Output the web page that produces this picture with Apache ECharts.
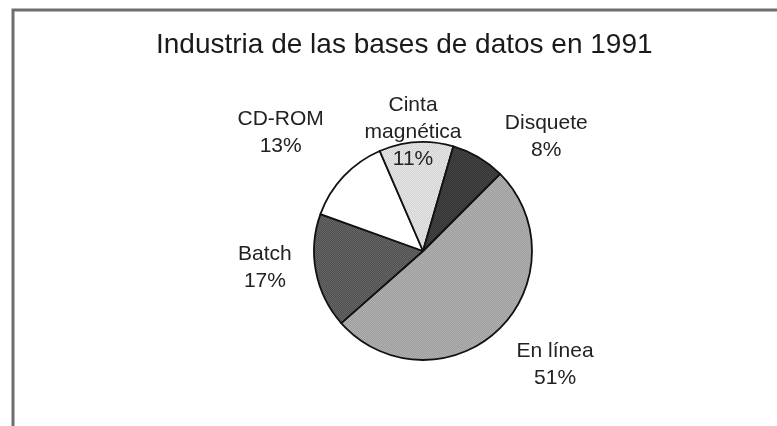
<!DOCTYPE html>
<html>
<head>
<meta charset="utf-8">
<script src="https://cdn.jsdelivr.net/npm/echarts@6/dist/echarts.min.js"></script>
<style>html,body{margin:0;padding:0;background:#fff;}#c{width:777px;height:426px;}</style>
</head>
<body>
<div id="c"></div>
<script>
// ---- data ----
var titleText = 'Industria de las bases de datos en 1991';
var categories = ['En línea', 'Batch', 'CD-ROM', 'Cinta\nmagnética', 'Disquete'];
var values = [51, 17, 13, 11, 8];

// ---- layout / style config ----
var CX = 423, CY = 251, R = 109;
// [radial distance, angle offset in degrees] for each label
var labelPlacement = [[174, 6.2], [159, -4.7], [185, 3.5], [119, 1.2], [168, -16.6]];

function pat(base, alt) {
  var c = document.createElement('canvas');
  c.width = c.height = 2;
  var g = c.getContext('2d');
  g.fillStyle = base; g.fillRect(0, 0, 2, 2);
  g.fillStyle = alt; g.fillRect(0, 0, 1, 1); g.fillRect(1, 1, 1, 1);
  return { image: c, repeat: 'repeat' };
}
var fills = [
  pat('#9c9c9c', '#b2b2b2'),
  pat('#4e4e4e', '#686868'),
  '#ffffff',
  pat('#d2d2d2', '#e6e6e6'),
  pat('#333333', '#454545')
];

var chart = echarts.init(document.getElementById('c'), null, { renderer: 'canvas' });
chart.setOption({
  animation: false,
  backgroundColor: '#ffffff',
  title: {
    text: titleText,
    left: 151,
    top: 26,
    textStyle: { fontFamily: 'Liberation Sans, Arial, sans-serif', fontSize: 28, fontWeight: 'normal', color: '#1a1a1a', lineHeight: 28 }
  },
  graphic: [{
    type: 'polyline',
    shape: { points: [[13, 426], [13, 10], [777, 10]] },
    style: { stroke: '#6e6e6e', lineWidth: 3, fill: null }
  }],
  series: [{
    type: 'pie',
    center: [CX, CY],
    radius: [0, R],
    startAngle: 45,
    clockwise: true,
    silent: true,
    emphasis: { disabled: true },
    itemStyle: { borderColor: '#111111', borderWidth: 1.8 },
    label: {
      show: true,
      position: 'inside',
      formatter: function (p) { return p.name + '\n' + p.value + '%'; },
      fontFamily: 'Liberation Sans, Arial, sans-serif',
      fontSize: 21,
      lineHeight: 27,
      color: '#222222',
      align: 'center'
    },
    labelLine: { show: false },
    labelLayout: function (p) {
      var lr = p.labelRect;
      var mx = lr.x + lr.width / 2 - CX, my = lr.y + lr.height / 2 - CY;
      var pl = labelPlacement[p.dataIndex];
      var a = Math.atan2(-my, mx) + pl[1] * Math.PI / 180;
      return { x: CX + pl[0] * Math.cos(a), y: CY - pl[0] * Math.sin(a), align: 'center', verticalAlign: 'middle' };
    },
    data: categories.map(function (n, i) {
      return { name: n, value: values[i], itemStyle: { color: fills[i] } };
    })
  }]
});
</script>
</body>
</html>
